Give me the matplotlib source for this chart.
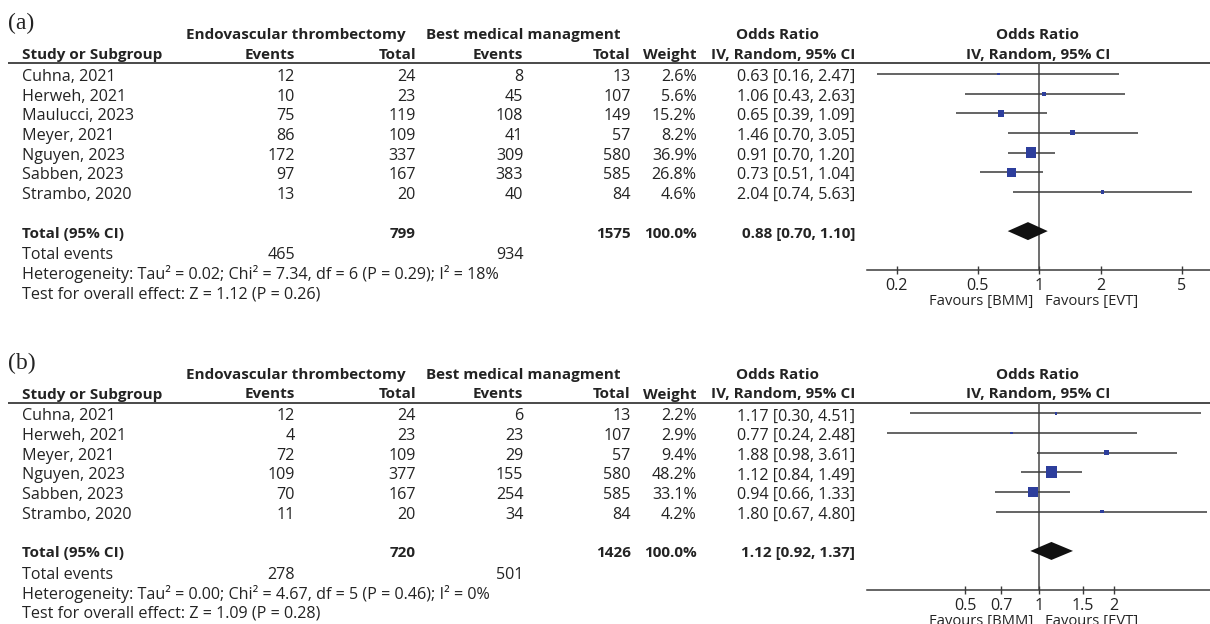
import matplotlib
matplotlib.use("Agg")
import matplotlib.pyplot as plt
import numpy as np
from matplotlib.patches import Polygon

plt.rcParams['font.family'] = ['Open Sans', 'DejaVu Sans']

# ---------------- Panel (a) ----------------
a_studies = ["Cuhna, 2021", "Herweh, 2021", "Maulucci, 2023", "Meyer, 2021",
             "Nguyen, 2023", "Sabben, 2023", "Strambo, 2020"]
a_evt_events = [12, 10, 75, 86, 172, 97, 13]
a_evt_total = [24, 23, 119, 109, 337, 167, 20]
a_bmm_events = [8, 45, 108, 41, 309, 383, 40]
a_bmm_total = [13, 107, 149, 57, 580, 585, 84]
a_weight = [2.6, 5.6, 15.2, 8.2, 36.9, 26.8, 4.6]
a_or = [0.63, 1.06, 0.65, 1.46, 0.91, 0.73, 2.04]
a_lo = [0.16, 0.43, 0.39, 0.70, 0.70, 0.51, 0.74]
a_hi = [2.47, 2.63, 1.09, 3.05, 1.20, 1.04, 5.63]
a_pooled = [0.88, 0.70, 1.10]
a_totals = [799, 1575]
a_total_weight = 100.0
a_total_events = [465, 934]
a_het = "Heterogeneity: Tau² = 0.02; Chi² = 7.34, df = 6 (P = 0.29); I² = 18%"
a_test = "Test for overall effect: Z = 1.12 (P = 0.26)"
a_xlim = [1 / 7, 7]
a_ticks = [0.2, 0.5, 1, 2, 5]
a_ticklabels = ["0.2", "0.5", "1", "2", "5"]

# ---------------- Panel (b) ----------------
b_studies = ["Cuhna, 2021", "Herweh, 2021", "Meyer, 2021", "Nguyen, 2023",
             "Sabben, 2023", "Strambo, 2020"]
b_evt_events = [12, 4, 72, 109, 70, 11]
b_evt_total = [24, 23, 109, 377, 167, 20]
b_bmm_events = [6, 23, 29, 155, 254, 34]
b_bmm_total = [13, 107, 57, 580, 585, 84]
b_weight = [2.2, 2.9, 9.4, 48.2, 33.1, 4.2]
b_or = [1.17, 0.77, 1.88, 1.12, 0.94, 1.80]
b_lo = [0.30, 0.24, 0.98, 0.84, 0.66, 0.67]
b_hi = [4.51, 2.48, 3.61, 1.49, 1.33, 4.80]
b_pooled = [1.12, 0.92, 1.37]
b_totals = [720, 1426]
b_total_weight = 100.0
b_total_events = [278, 501]
b_het = "Heterogeneity: Tau² = 0.00; Chi² = 4.67, df = 5 (P = 0.46); I² = 0%"
b_test = "Test for overall effect: Z = 1.09 (P = 0.28)"
b_xlim = [0.2, 5]
b_ticks = [0.5, 0.7, 1, 1.5, 2]
b_ticklabels = ["0.5", "0.7", "1", "1.5", "2"]

# ---------------- layout (pixels) ----------------
W, H = 1210, 624
FS_BOLD = 11
FS = 11.6
TXT = '#232323'
LINE = '#3a3a3a'
SQ = '#2d3e9c'

ROW0, PITCH = 73.9, 19.65
COL_EVT_EV, COL_EVT_TOT = 295, 416
COL_BMM_EV, COL_BMM_TOT = 523.3, 630.7
COL_WEIGHT, COL_OR = 696.7, 855
PLOT_LEFT, PLOT_ONE = 867, 1039.3

fig = plt.figure(figsize=(W / 100, H / 100), dpi=100)
canvas = fig.add_axes([0, 0, 1, 1])
canvas.set_xlim(0, W)
canvas.set_ylim(H, 0)
canvas.axis('off')


def put(x, y, s, ha='left', bold=False, **kw):
    size = kw.pop('fontsize', FS_BOLD if bold else FS)
    canvas.text(x, y, s, ha=ha, va='baseline', fontsize=size,
                fontweight='bold' if bold else 'normal', color=TXT, **kw)


def panel(off, tag, studies, evt_ev, evt_tot, bmm_ev, bmm_tot, weight,
          orv, lo, hi, pooled, totals, total_weight, total_events, het, test,
          xlim, ticks, ticklabels):
    n = len(studies)

    def rowy(i):
        return off + ROW0 + PITCH * i

    put(8, off + 29.5, tag, fontsize=17, family='Liberation Serif')

    # headings
    put(295.5, off + 39.3, "Endovascular thrombectomy", ha='center', bold=True)
    put(523, off + 39.3, "Best medical managment", ha='center', bold=True)
    put(777, off + 39.3, "Odds Ratio", ha='center', bold=True)
    put(1038, off + 39.3, "Odds Ratio", ha='center', bold=True)
    put(21.7, off + 59, "Study or Subgroup", bold=True)
    put(COL_EVT_EV, off + 59, "Events", ha='right', bold=True)
    put(COL_EVT_TOT, off + 59, "Total", ha='right', bold=True)
    put(COL_BMM_EV, off + 59, "Events", ha='right', bold=True)
    put(COL_BMM_TOT, off + 59, "Total", ha='right', bold=True)
    put(COL_WEIGHT, off + 59, "Weight", ha='right', bold=True)
    put(COL_OR, off + 59, "IV, Random, 95% CI", ha='right', bold=True)
    put(1038, off + 59, "IV, Random, 95% CI", ha='center', bold=True)
    rule_y = off + 63
    canvas.plot([8, W], [rule_y, rule_y], color=LINE, lw=1.3,
                solid_capstyle='butt')

    # study rows
    for i in range(n):
        yb = rowy(i) + 7
        put(21.7, yb, studies[i])
        put(COL_EVT_EV, yb, str(evt_ev[i]), ha='right')
        put(COL_EVT_TOT, yb, str(evt_tot[i]), ha='right')
        put(COL_BMM_EV, yb, str(bmm_ev[i]), ha='right')
        put(COL_BMM_TOT, yb, str(bmm_tot[i]), ha='right')
        put(COL_WEIGHT, yb, f"{weight[i]:.1f}%", ha='right')
        put(COL_OR, yb, f"{orv[i]:.2f} [{lo[i]:.2f}, {hi[i]:.2f}]", ha='right')

    # pooled row
    yb = rowy(n + 1) + 6.5
    put(21.7, yb, "Total (95% CI)", bold=True)
    put(COL_EVT_TOT, yb, str(totals[0]), ha='right', bold=True)
    put(COL_BMM_TOT, yb, str(totals[1]), ha='right', bold=True)
    put(COL_WEIGHT, yb, f"{total_weight:.1f}%", ha='right', bold=True)
    put(COL_OR, yb, f"{pooled[0]:.2f} [{pooled[1]:.2f}, {pooled[2]:.2f}]",
        ha='right', bold=True)
    put(21.7, rowy(n + 2) + 8, "Total events")
    put(COL_EVT_EV, rowy(n + 2) + 8, str(total_events[0]), ha='right')
    put(COL_BMM_EV, rowy(n + 2) + 8, str(total_events[1]), ha='right')
    put(21.7, rowy(n + 3) + 9, het)
    put(21.7, rowy(n + 4) + 8, test)

    # forest plot axes: x in log odds ratio, y in row index
    axis_y = rowy(n + 3)
    ppd = (PLOT_ONE - PLOT_LEFT) / np.log10(1 / xlim[0])
    right_px = PLOT_ONE + ppd * np.log10(xlim[1])
    ax = fig.add_axes([PLOT_LEFT / W, 1 - axis_y / H,
                       (right_px - PLOT_LEFT) / W, (axis_y - rule_y) / H])
    ax.set_xscale('log')
    ax.set_xlim(xlim)
    ax.set_ylim(n + 3, (rule_y - off - ROW0) / PITCH)
    ax.patch.set_alpha(0)
    for s in ['top', 'left', 'right']:
        ax.spines[s].set_visible(False)
    ax.spines['bottom'].set_color(LINE)
    ax.spines['bottom'].set_linewidth(1.1)
    ax.set_yticks([])
    ax.xaxis.set_minor_locator(matplotlib.ticker.NullLocator())
    ax.set_xticks(ticks)
    ax.set_xticklabels(ticklabels)
    ax.tick_params(axis='x', direction='inout', length=6, width=1.0,
                   color=LINE, pad=2.4, labelsize=FS, labelcolor=TXT)

    ax.axvline(1, color='#555555', lw=1.2, zorder=1)
    rows = np.arange(n)
    ax.hlines(rows, lo, hi, color=LINE, lw=1.1, zorder=2, clip_on=False)
    side_px = 1.7 * np.sqrt(np.array(weight))
    ax.scatter(orv, rows, marker='s', s=(side_px * 0.72) ** 2, color=SQ,
               linewidths=0, zorder=3, clip_on=False)
    h = 9 / PITCH
    yd = n + 1
    ax.add_patch(Polygon([(pooled[1], yd), (pooled[0], yd - h),
                          (pooled[2], yd), (pooled[0], yd + h)],
                         closed=True, facecolor='#111111', edgecolor='none',
                         zorder=3))

    put(PLOT_ONE - 6, axis_y + 35, "Favours [BMM]", ha='right', fontsize=10.6)
    put(PLOT_ONE + 6, axis_y + 35, "Favours [EVT]", ha='left', fontsize=10.6)


panel(0, "(a)", a_studies, a_evt_events, a_evt_total, a_bmm_events,
      a_bmm_total, a_weight, a_or, a_lo, a_hi, a_pooled, a_totals,
      a_total_weight, a_total_events, a_het, a_test, a_xlim, a_ticks,
      a_ticklabels)
panel(339.5, "(b)", b_studies, b_evt_events, b_evt_total, b_bmm_events,
      b_bmm_total, b_weight, b_or, b_lo, b_hi, b_pooled, b_totals,
      b_total_weight, b_total_events, b_het, b_test, b_xlim, b_ticks,
      b_ticklabels)

fig.savefig("out.png", dpi=100)
